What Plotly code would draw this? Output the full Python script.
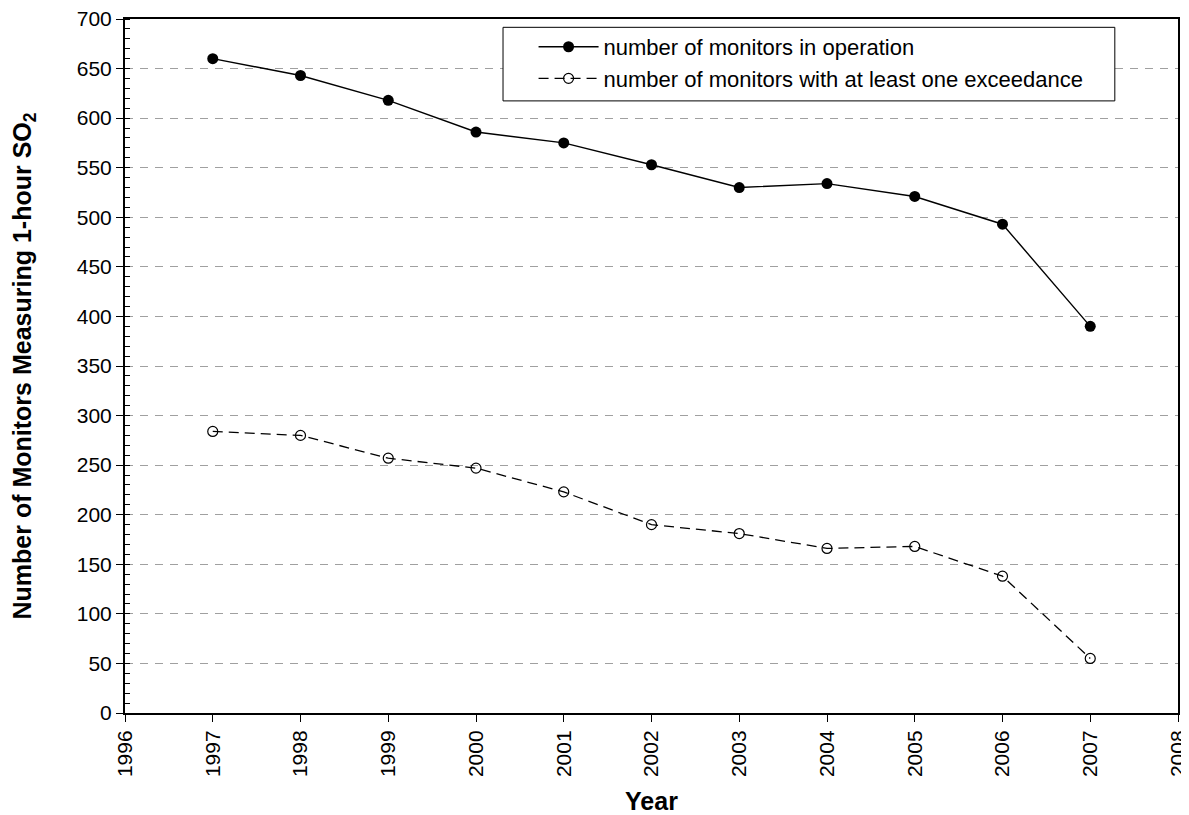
import plotly.graph_objs as go

# data
years = [1997, 1998, 1999, 2000, 2001, 2002, 2003, 2004, 2005, 2006, 2007]
in_operation = [660, 643, 618, 586, 575, 553, 530, 534, 521, 493, 390]
with_exceedance = [284, 280, 257, 247, 223, 190, 181, 166, 168, 138, 55]
x_ticks = list(range(1996, 2009))

fig = go.Figure()

# monitors in operation - solid line, filled dots
fig.add_trace(go.Scatter(x=years, y=in_operation, mode='lines+markers',
                         name='number of monitors in operation',
                         line=dict(color='black', width=1.4),
                         marker=dict(symbol='circle', size=11, color='black')))

# monitors with an exceedance - dashed line, open dots
fig.add_trace(go.Scatter(x=years, y=with_exceedance, mode='lines+markers',
                         name='number of monitors with at least one exceedance',
                         line=dict(color='black', width=1.3, dash='10px,6px'),
                         marker=dict(symbol='circle-open', size=10, color='black',
                                     line=dict(width=1.2))))

# page body has an 8px margin, so the figure is a little smaller than the window
fig.update_layout(
    width=1181, height=807,
    margin=dict(l=117, r=11, t=11, b=102),
    paper_bgcolor='white', plot_bgcolor='white',
    font=dict(family='Liberation Sans, Arial, sans-serif', color='black'),
    legend=dict(x=0.388, y=0.99, xanchor='left', yanchor='top',
                borderwidth=0, bgcolor='rgba(0,0,0,0)',
                font=dict(size=22), itemwidth=60, tracegroupgap=2),
    # legend frame, wider than plotly's own box
    shapes=[dict(type='rect', xref='paper', yref='paper',
                 x0=0.359, x1=0.940, y0=0.882, y1=0.988,
                 line=dict(color='black', width=1), fillcolor='white', layer='above')],
)

fig.update_xaxes(
    range=[1996, 2008], tickvals=x_ticks, ticktext=[str(t) for t in x_ticks],
    tickangle=-90, tickfont=dict(size=21), automargin=False, ticklabeloverflow='allow',
    ticks='outside', ticklen=7, tickcolor='black',
    showline=True, linecolor='black', linewidth=2, mirror=True,
    showgrid=False, zeroline=False,
    title=dict(text='<b>Year</b>', font=dict(size=25), standoff=16),
)

fig.update_yaxes(
    range=[0, 700], dtick=50, tickfont=dict(size=21), automargin=False, ticklabeloverflow='allow',
    ticks='outside', ticklen=7, tickcolor='black',
    minor=dict(dtick=10, ticks='inside', ticklen=5, tickcolor='black', showgrid=False),
    showline=True, linecolor='black', linewidth=2, mirror=True,
    showgrid=True, gridcolor='#a0a0a0', gridwidth=1, griddash='8px,7px',
    zeroline=False,
    title=dict(text='<b>Number of Monitors Measuring 1-hour SO<sub>2</sub></b>',
               font=dict(size=25), standoff=38),
)

fig.write_html("out.html")
